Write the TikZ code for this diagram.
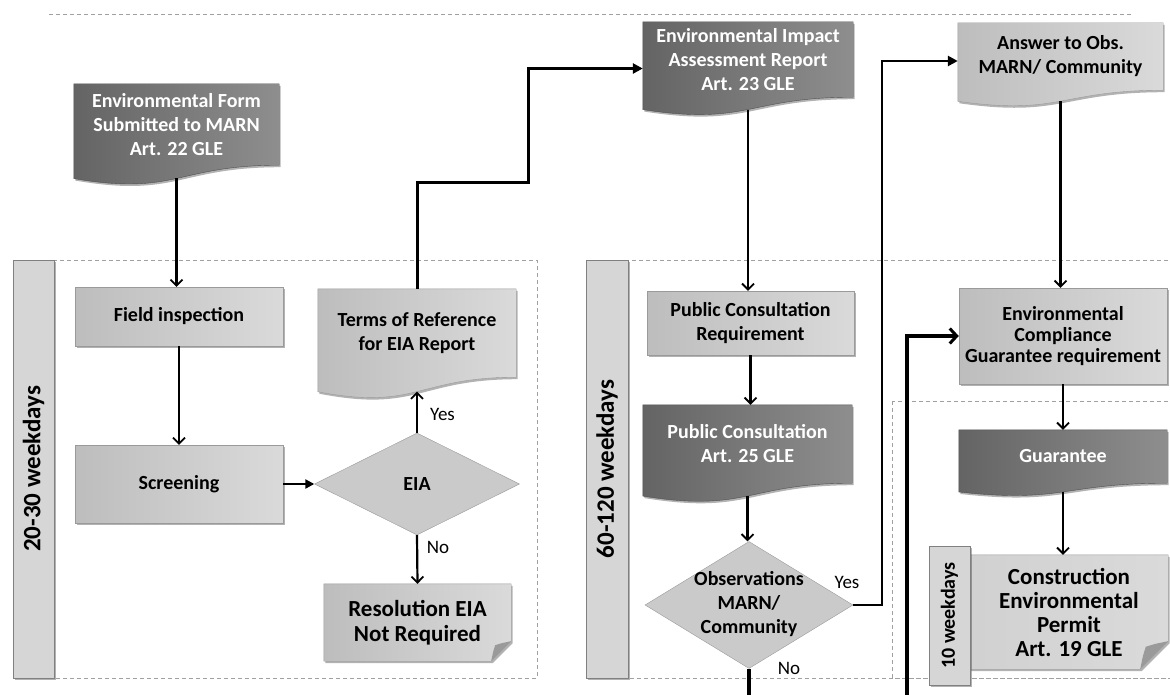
\documentclass[tikz,border=0pt]{standalone}
\usepackage{fontspec}
\setmainfont{Carlito}
\usetikzlibrary{calc,arrows.meta,backgrounds,shadows,shapes.geometric}

\definecolor{darkdoc}{HTML}{646464}
\definecolor{darkdocl}{HTML}{8E8E8E}
\definecolor{lightbox}{HTML}{BDBDBD}
\definecolor{lightboxl}{HTML}{DADADA}
\definecolor{boxedge}{HTML}{9A9A9A}
\definecolor{lanefill}{HTML}{D6D6D6}
\definecolor{dashgray}{HTML}{A0A0A0}

% wavy document outline behind a node, and a coordinate <name>-b on the wave
\newcommand{\docoutline}[2]{%
  \path[#2] let \p1=(#1.north west), \p2=(#1.south east), \n1={(\y1-\y2)/0.802} in
    (\p1) -- (\x2,\y1) -- (\p2)
    .. controls ({(\x1+\x2)/2},\y2) and ({(\x1+\x2)/2},\y1-1.107*\n1) .. (\x1,\y1-0.934*\n1) -- cycle
    ({(\x1+\x2)/2},\y1-0.933*\n1) coordinate (#1-b);}
% note with a folded corner
\newcommand{\noteoutline}[3]{%
  \path[#2] let \p1=(#1.north west), \p2=(#1.south east) in
    (\p1) -- (\x2,\y1) -- (\x2,\y2+#3) -- (\x2-#3,\y2) -- (\x1,\y2) -- cycle;
  \fill[boxedge] let \p1=(#1.north west), \p2=(#1.south east) in
    (\x2,\y2+#3) -- (\x2-#3,\y2) .. controls (\x2-0.9*#3,\y2+0.5*#3) .. (\x2-0.8*#3,\y2+0.8*#3)
    .. controls (\x2-0.5*#3,\y2+0.9*#3) .. (\x2,\y2+#3) -- cycle;}

\begin{document}
\begin{tikzpicture}[x=1pt,y=-1pt,
  lbl/.style={font=\fontsize{20}{24}\selectfont\bfseries,align=center,inner sep=0pt},
  shadebox/.style={left color=lightbox,right color=lightboxl},
  shadowed/.style={drop shadow={shadow xshift=1.5pt,shadow yshift=-2pt,opacity=.3,fill=black}},
  procbox/.style={lbl,draw=boxedge,shadebox,shadowed},
  docbox/.style={lbl},
  darkdocbox/.style={lbl,text=white},
  choice/.style={diamond,draw=boxedge,fill=lightbox!80!white,inner sep=0pt},
  lanebar/.style={draw=gray,fill=lanefill,rotate=90,inner sep=0pt,
    font=\fontsize{25}{30}\selectfont\bfseries,shadowed},
  lanebox/.style={draw=dashgray,dash pattern=on 4pt off 3pt,line width=.8pt},
  flow/.style={line width=2.2pt,-{Straight Barb[length=6pt,width=12pt,line width=1.8pt]}},
  pointer/.style={line width=2.2pt,-{Triangle[length=9pt,width=9pt]}},
  answer/.style={font=\fontsize{19}{22}\selectfont,inner sep=0pt},
  ]
\useasboundingbox (0,0) rectangle (1170,695);
\clip (0,0) rectangle (1170,695);

% lanes
\draw[lanebox] (49,14) -- (1133,14);
\draw[lanebox] (54,260) rectangle (537,678);
\draw[lanebox] (628,260) rectangle (1180,678);
\draw[lanebox] (892,401) rectangle (1180,678);
\node[lanebar,minimum width=418pt,minimum height=41pt] (lane1) at (33.5,469) {20-30 weekdays};
\node[lanebar,minimum width=418pt,minimum height=42pt] (lane2) at (607,469) {60-120 weekdays};
\node[lanebar,minimum width=139pt,minimum height=41pt,font=\fontsize{20}{24}\selectfont\bfseries] (lane3) at (949.5,615.5) {10 weekdays};

% screening
\node[darkdocbox,minimum width=205pt,minimum height=81pt] (envform) at (176.5,124.5) {Environmental Form\\Submitted to MARN\\Art. 22 GLE};
\node[procbox,minimum width=208pt,minimum height=59pt] (field) at (179,316.5) {Field inspection};
\node[procbox,minimum width=208pt,minimum height=78pt] (screen) at (179,484) {Screening};
\node[choice,lbl,minimum width=205pt,minimum height=102pt] (eia) at (417,484) {EIA};
\node[docbox,minimum width=198pt,minimum height=88pt] (terms) at (417,333) {Terms of Reference\\for EIA Report};
\node[docbox,font=\fontsize{23}{25}\selectfont\bfseries,minimum width=187pt,minimum height=77pt] (resol) at (417.5,622.5) {Resolution EIA\\Not Required};

% report and consultation
\node[darkdocbox,minimum width=210pt,minimum height=75pt] (eiarep) at (748,59.5) {Environmental Impact\\Assessment Report\\Art. 23 GLE};
\node[procbox,minimum width=207pt,minimum height=64pt] (pcreq) at (750.5,323) {Public Consultation\\Requirement};
\node[darkdocbox,minimum width=209pt,minimum height=78pt] (pcart) at (747.5,444) {Public Consultation\\Art. 25 GLE};
\node[choice,minimum width=208pt,minimum height=127pt] (obs) at (749,605) {};
\node[lbl] (obstext) at (749,604) {Observations\\MARN/\\Community};

% permit
\node[docbox,minimum width=205pt,minimum height=67pt] (answer) at (1060.5,56.5) {Answer to Obs.\\MARN/ Community};
\node[procbox,font=\fontsize{20}{21}\selectfont\bfseries,minimum width=208pt,minimum height=96pt] (comply) at (1063,336) {Environmental\\Compliance\\Guarantee requirement};
\node[darkdocbox,minimum width=208pt,minimum height=53pt] (guar) at (1063,456.5) {Guarantee};
\node[docbox,font=\fontsize{23}{24}\selectfont\bfseries,minimum width=198pt,minimum height=114pt] (permit) at (1069,612) {Construction\\Environmental\\Permit\\Art. 19 GLE};

\begin{scope}[on background layer]
  \docoutline{envform}{left color=darkdoc,right color=darkdocl,draw=darkdoc!80!black,shadowed}
  \docoutline{eiarep}{left color=darkdoc,right color=darkdocl,draw=darkdoc!80!black,shadowed}
  \docoutline{pcart}{left color=darkdoc,right color=darkdocl,draw=darkdoc!80!black,shadowed}
  \docoutline{guar}{left color=darkdoc,right color=darkdocl,draw=darkdoc!80!black,shadowed}
  \docoutline{terms}{shadebox,draw=boxedge,shadowed}
  \docoutline{answer}{shadebox,draw=boxedge,shadowed}
  \noteoutline{resol}{shadebox,draw=boxedge,shadowed}{20}
  \noteoutline{permit}{left color=lightbox!70!white,right color=lightboxl,draw=boxedge,shadowed}{28}
\end{scope}

\coordinate (k1) at (528,183);
\coordinate (k2) at (882,300);
\coordinate (k3) at (749,700);
\coordinate (k4) at (907,700);

\draw[flow] (envform-b) -- (envform-b |- field.north);
\draw[flow] (field.south) -- (screen.north);
\draw[pointer] (screen.east) -- (eia.west);
\draw[flow] (eia.north) -- (terms-b);
\node[answer] (yes1) at (442.5,414) {Yes};
\draw[flow] (eia.south) -- (resol.north);
\node[answer] (no1) at (438,547) {No};
\draw[line width=3pt,-{Triangle[length=10pt,width=10pt]}] (terms.north) |- (k1) |- ([yshift=-9pt]eiarep.west);

\draw[flow] (eiarep-b) -- (eiarep-b |- pcreq.north);
\draw[flow] (pcreq.south) -- (pcreq.south |- pcart.north);
\draw[flow] (pcart-b) -- (pcart-b |- obs.north);
\draw[line width=2.6pt,-{Triangle[length=10pt,width=10pt]}] (obs.east) -| (k2) |- ([yshift=-4.5pt]answer.west);
\node[answer] (yes2) at (847,582) {Yes};
\draw[line width=3.4pt] (obs.south) -- (k3);
\node[answer] (no2) at (789,668) {No};

\draw[flow] (answer-b) -- (answer-b |- comply.north);
\draw[line width=3.6pt,-{Straight Barb[length=7pt,width=15pt,line width=3pt]}] (k4) |- (comply.west);
\draw[flow] (comply.south) -- (guar.north);
\draw[flow] (guar-b) -- (guar-b |- permit.north);
\end{tikzpicture}
\end{document}
